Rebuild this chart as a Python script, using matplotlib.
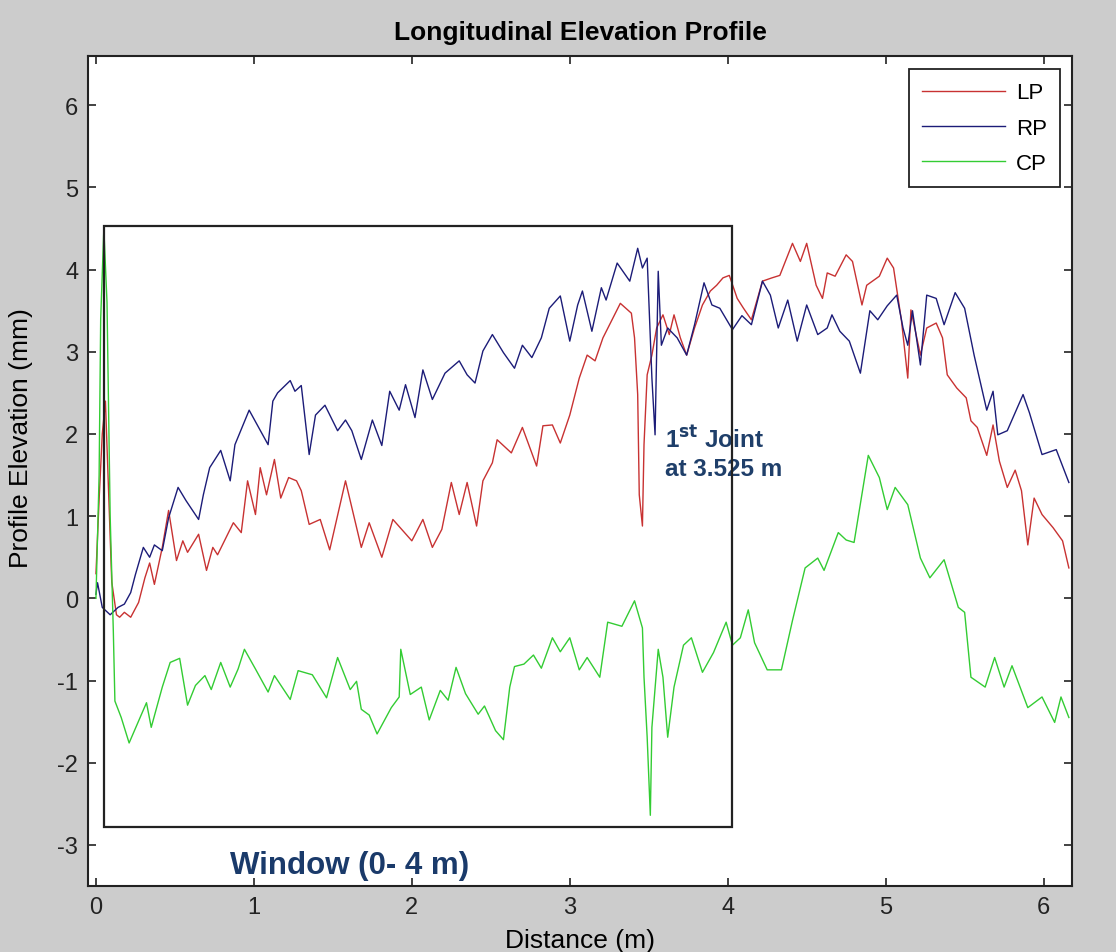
import matplotlib
matplotlib.use("Agg")
import matplotlib.pyplot as plt
from matplotlib.patches import Rectangle

plt.rcParams['font.family'] = ['Liberation Sans', 'DejaVu Sans']
plt.rcParams['axes.unicode_minus'] = False

# LP - left profile (distance m, elevation mm)
lp_x = [0.00, 0.02, 0.04, 0.06, 0.08, 0.10, 0.13, 0.15, 0.18, 0.22, 0.27, 0.31, 0.34, 0.37,
        0.42, 0.46, 0.51, 0.55, 0.58, 0.65, 0.70, 0.74, 0.77, 0.87, 0.92, 0.96, 1.01, 1.04,
        1.08, 1.13, 1.17, 1.22, 1.27, 1.30, 1.35, 1.42, 1.48, 1.58, 1.68, 1.73, 1.81, 1.88,
        2.00, 2.07, 2.13, 2.19, 2.25, 2.30, 2.35, 2.41, 2.45, 2.51, 2.54, 2.63, 2.70, 2.79,
        2.83, 2.89, 2.94, 3.00, 3.06, 3.11, 3.16, 3.21, 3.32, 3.39, 3.41, 3.43, 3.44, 3.46,
        3.47, 3.49, 3.52, 3.55, 3.59, 3.63, 3.66, 3.70, 3.74, 3.79, 3.84, 3.89, 3.93, 3.97,
        4.01, 4.06, 4.10, 4.15, 4.22, 4.28, 4.33, 4.41, 4.46, 4.50, 4.56, 4.60, 4.63, 4.68,
        4.75, 4.79, 4.85, 4.88, 4.96, 5.01, 5.05, 5.10, 5.14, 5.16, 5.22, 5.26, 5.32, 5.36,
        5.39, 5.45, 5.51, 5.54, 5.58, 5.64, 5.68, 5.72, 5.77, 5.82, 5.86, 5.90, 5.94, 5.99,
        6.06, 6.12, 6.16]
lp_y = [0.30, 1.20, 2.00, 2.40, 1.30, 0.20, -0.20, -0.23, -0.17, -0.23, -0.05, 0.25, 0.43, 0.17,
        0.62, 1.07, 0.46, 0.70, 0.56, 0.78, 0.34, 0.62, 0.53, 0.92, 0.80, 1.43, 1.02, 1.59,
        1.26, 1.69, 1.22, 1.47, 1.43, 1.31, 0.90, 0.96, 0.59, 1.43, 0.62, 0.92, 0.50, 0.96,
        0.70, 0.96, 0.62, 0.84, 1.41, 1.02, 1.41, 0.88, 1.43, 1.65, 1.93, 1.77, 2.08, 1.61,
        2.10, 2.11, 1.89, 2.23, 2.68, 2.96, 2.89, 3.17, 3.59, 3.47, 3.17, 2.48, 1.26, 0.88,
        1.87, 2.72, 2.96, 3.29, 3.45, 3.21, 3.45, 3.17, 2.96, 3.29, 3.57, 3.74, 3.81, 3.90,
        3.93, 3.65, 3.53, 3.39, 3.86, 3.90, 3.93, 4.32, 4.10, 4.32, 3.81, 3.65, 3.96, 3.92,
        4.18, 4.10, 3.57, 3.81, 3.92, 4.14, 4.02, 3.38, 2.68, 3.51, 2.96, 3.29, 3.35, 3.17,
        2.72, 2.56, 2.44, 2.16, 2.08, 1.74, 2.11, 1.67, 1.35, 1.56, 1.31, 0.65, 1.22, 1.02,
        0.86, 0.70, 0.37]

# RP - right profile
rp_x = [0.00, 0.01, 0.04, 0.09, 0.14, 0.18, 0.22, 0.25, 0.30, 0.34, 0.37, 0.42, 0.46, 0.52,
        0.57, 0.65, 0.68, 0.72, 0.79, 0.85, 0.88, 0.97, 1.09, 1.12, 1.15, 1.23, 1.26, 1.30,
        1.35, 1.39, 1.45, 1.53, 1.58, 1.62, 1.68, 1.75, 1.81, 1.86, 1.92, 1.96, 2.02, 2.07,
        2.13, 2.21, 2.30, 2.35, 2.40, 2.45, 2.51, 2.58, 2.65, 2.70, 2.76, 2.82, 2.87, 2.94,
        3.00, 3.05, 3.08, 3.14, 3.20, 3.23, 3.30, 3.38, 3.43, 3.46, 3.49, 3.52, 3.54, 3.56,
        3.58, 3.62, 3.68, 3.74, 3.79, 3.85, 3.90, 3.95, 4.03, 4.09, 4.15, 4.22, 4.27, 4.32,
        4.38, 4.44, 4.50, 4.57, 4.63, 4.66, 4.71, 4.77, 4.84, 4.90, 4.95, 5.01, 5.07, 5.11,
        5.14, 5.17, 5.22, 5.26, 5.32, 5.37, 5.44, 5.50, 5.56, 5.64, 5.68, 5.71, 5.77, 5.87,
        5.91, 5.99, 6.08, 6.16]
rp_y = [0.05, 0.19, -0.11, -0.20, -0.11, -0.07, 0.07, 0.29, 0.62, 0.50, 0.65, 0.58, 0.98, 1.35,
        1.19, 0.96, 1.26, 1.59, 1.80, 1.43, 1.87, 2.29, 1.87, 2.40, 2.50, 2.65, 2.52, 2.59,
        1.75, 2.23, 2.35, 2.04, 2.17, 2.04, 1.69, 2.17, 1.86, 2.52, 2.29, 2.60, 2.20, 2.78,
        2.42, 2.74, 2.89, 2.72, 2.62, 3.01, 3.21, 2.99, 2.80, 3.08, 2.93, 3.17, 3.53, 3.68,
        3.13, 3.57, 3.74, 3.25, 3.78, 3.63, 4.08, 3.86, 4.26, 4.02, 4.14, 2.68, 1.99, 3.98,
        3.08, 3.29, 3.17, 2.96, 3.33, 3.84, 3.57, 3.53, 3.27, 3.44, 3.33, 3.86, 3.69, 3.29,
        3.63, 3.13, 3.57, 3.21, 3.29, 3.45, 3.25, 3.13, 2.74, 3.50, 3.39, 3.56, 3.69, 3.29,
        3.08, 3.50, 2.84, 3.69, 3.65, 3.33, 3.72, 3.53, 2.96, 2.29, 2.52, 1.99, 2.04, 2.48,
        2.26, 1.75, 1.81, 1.41]

# CP - centre profile
cp_x = [0.00, 0.02, 0.03, 0.05, 0.07, 0.09, 0.11, 0.12, 0.16, 0.21, 0.32, 0.35, 0.42, 0.47,
        0.53, 0.58, 0.63, 0.69, 0.73, 0.79, 0.85, 0.90, 0.94, 1.01, 1.09, 1.13, 1.23, 1.28,
        1.37, 1.46, 1.53, 1.61, 1.65, 1.68, 1.73, 1.78, 1.87, 1.92, 1.93, 1.99, 2.06, 2.11,
        2.18, 2.23, 2.28, 2.34, 2.42, 2.46, 2.53, 2.58, 2.62, 2.65, 2.71, 2.77, 2.82, 2.89,
        2.94, 3.00, 3.06, 3.11, 3.19, 3.24, 3.33, 3.41, 3.46, 3.47, 3.49, 3.51, 3.52, 3.56,
        3.59, 3.62, 3.66, 3.72, 3.77, 3.84, 3.91, 3.99, 4.03, 4.08, 4.13, 4.17, 4.25, 4.34,
        4.41, 4.49, 4.57, 4.61, 4.70, 4.75, 4.80, 4.89, 4.96, 5.01, 5.06, 5.14, 5.22, 5.28,
        5.37, 5.46, 5.50, 5.54, 5.63, 5.69, 5.75, 5.80, 5.90, 5.99, 6.07, 6.11, 6.16]
cp_y = [0.00, 1.50, 3.40, 4.50, 3.60, 1.00, -0.40, -1.25, -1.45, -1.76, -1.27, -1.57, -1.08, -0.78,
        -0.73, -1.30, -1.06, -0.94, -1.11, -0.78, -1.08, -0.86, -0.62, -0.86, -1.14, -0.94, -1.23, -0.88,
        -0.93, -1.21, -0.72, -1.11, -1.01, -1.35, -1.42, -1.65, -1.33, -1.20, -0.62, -1.17, -1.08, -1.48,
        -1.12, -1.24, -0.84, -1.16, -1.41, -1.31, -1.61, -1.72, -1.08, -0.83, -0.80, -0.69, -0.85, -0.48,
        -0.65, -0.48, -0.87, -0.72, -0.96, -0.29, -0.34, -0.03, -0.36, -0.96, -1.69, -2.64, -1.57, -0.62,
        -0.96, -1.69, -1.08, -0.57, -0.48, -0.90, -0.66, -0.29, -0.57, -0.48, -0.14, -0.54, -0.87, -0.87,
        -0.27, 0.37, 0.49, 0.34, 0.80, 0.71, 0.68, 1.74, 1.47, 1.08, 1.35, 1.14, 0.49, 0.25,
        0.47, -0.11, -0.17, -0.96, -1.08, -0.72, -1.08, -0.82, -1.33, -1.20, -1.51, -1.20, -1.45]

x_ticks = [0, 1, 2, 3, 4, 5, 6]
y_ticks = [-3, -2, -1, 0, 1, 2, 3, 4, 5, 6]

# window box (0 - 4 m)
win_x0, win_x1 = 0.05, 4.03
win_y0, win_y1 = -2.78, 4.53

fig = plt.figure(figsize=(11.16, 9.53), dpi=100, facecolor='#cccccc')
ax = fig.add_axes([0.0789, 0.0693, 0.8817, 0.8709])
ax.set_facecolor('white')

ax.plot(lp_x, lp_y, color='#c83232', lw=1.0, label='LP')
ax.plot(rp_x, rp_y, color='#1c1c78', lw=1.0, label='RP')
ax.plot(cp_x, cp_y, color='#33cc33', lw=1.0, label='CP')

ax.add_patch(Rectangle((win_x0, win_y0), win_x1 - win_x0, win_y1 - win_y0,
                       fill=False, edgecolor='#222222', lw=1.6, zorder=5))

ax.set_xlim(-0.05, 6.18)
ax.set_ylim(-3.5, 6.6)
ax.set_xticks(x_ticks)
ax.set_yticks(y_ticks)
ax.tick_params(direction='in', length=6, width=1.2, top=True, right=True,
               labelsize=17, pad=7, colors='#222222')
for s in ax.spines.values():
    s.set_linewidth(1.5)
    s.set_color('#222222')

ax.set_title('Longitudinal Elevation Profile', fontsize=19, fontweight='bold', pad=12)
ax.set_xlabel('Distance (m)', fontsize=19)
ax.set_ylabel('Profile Elevation (mm)', fontsize=19)
ax.xaxis.set_label_coords(0.5, -0.051)
ax.yaxis.set_label_coords(-0.056, 0.541)

ax.text(3.6, 1.77, r'1$^{\mathbf{st}}$ Joint' + '\nat 3.525 m', color='#1f3f6a',
        fontsize=17.5, fontweight='bold', va='center', ha='left', linespacing=1.25)
ax.text(0.85, -3.24, 'Window (0- 4 m)', color='#1a3a6a', fontsize=22.5,
        fontweight='bold', va='center', ha='left')

leg = ax.legend(loc='upper right', fontsize=16, fancybox=False, framealpha=1,
                edgecolor='#222222', handlelength=3.7, handletextpad=0.5,
                borderpad=0.6, labelspacing=0.64, borderaxespad=0,
                bbox_to_anchor=(0.9878, 0.9843))
leg.get_frame().set_linewidth(1.3)

fig.savefig('out.png', dpi=100, facecolor=fig.get_facecolor())
